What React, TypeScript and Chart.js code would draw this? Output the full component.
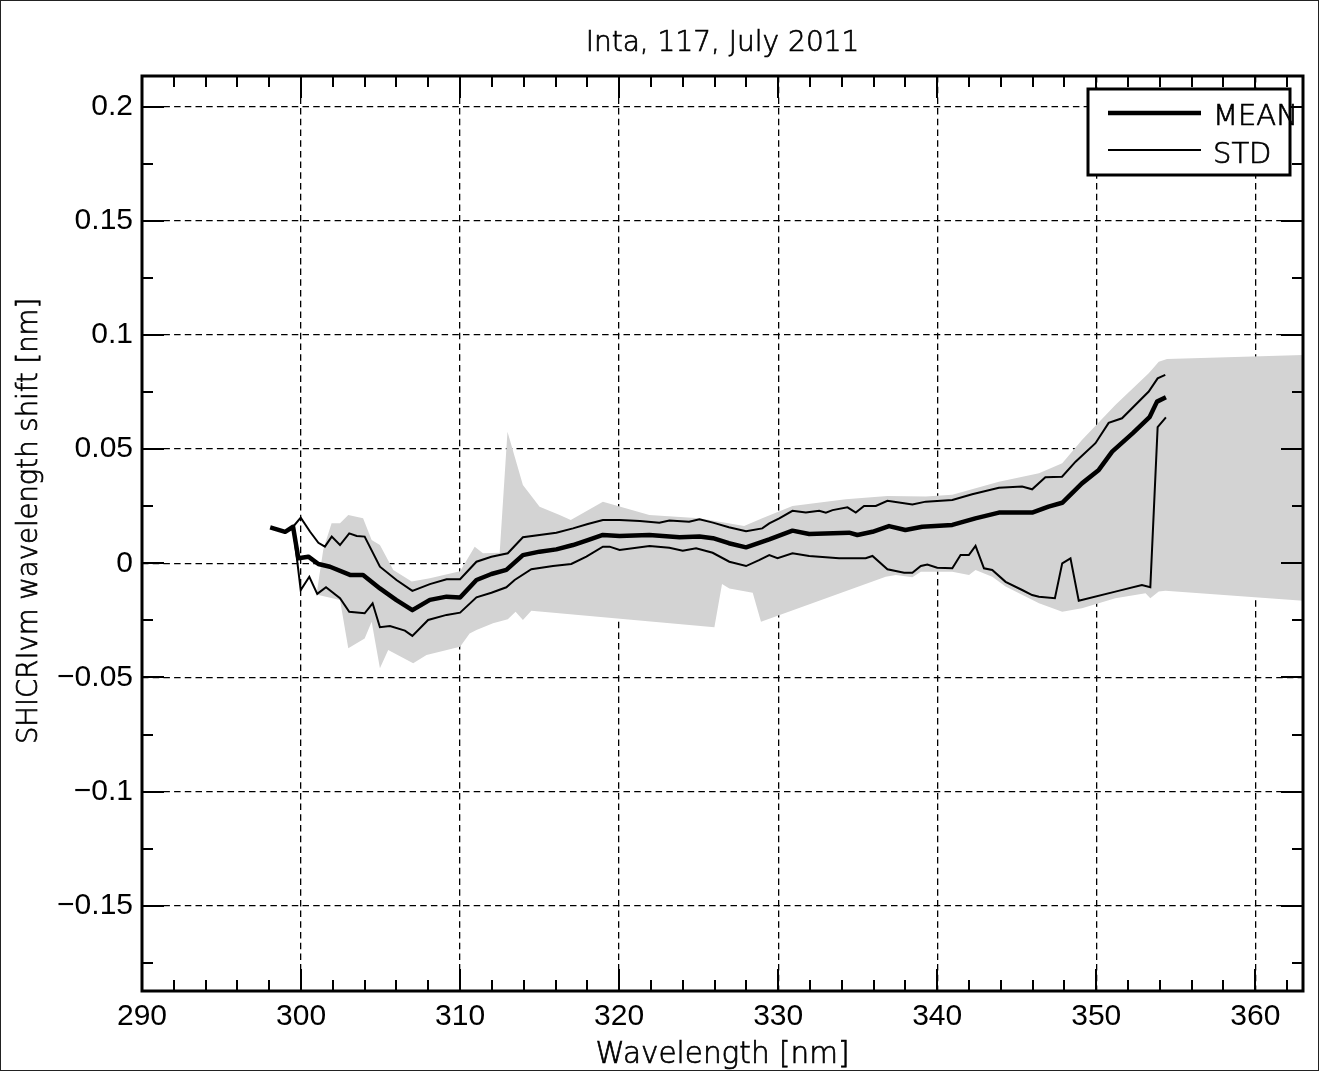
import React, { useEffect, useRef } from "react";
import { Chart, registerables } from "chart.js";

Chart.register(...registerables);

// ---- data (wavelength [nm], shift [nm]) ----
const meanX = [298.06, 299.0, 299.5, 299.83, 300.46, 301.09, 301.82, 303.08, 303.9, 304.96, 306.0, 307.0, 308.1, 309.15, 310.0, 311.03, 311.97, 312.91, 313.95, 315.0, 316.05, 317.1, 318.03, 318.98, 320.03, 321.9, 323.8, 325.05, 325.9, 326.9, 327.98, 329.44, 330.9, 331.95, 334.46, 334.98, 335.93, 336.97, 338.0, 339.06, 340.95, 342.4, 343.88, 345.97, 347.0, 347.86, 349.1, 350.16, 351.0, 352.3, 353.35, 353.82, 354.38];
const meanY = [0.0157, 0.0138, 0.016, 0.0022, 0.0029, -0.0003, -0.0015, -0.0051, -0.0051, -0.011, -0.0161, -0.0205, -0.016, -0.0146, -0.015, -0.0073, -0.0047, -0.0029, 0.0036, 0.0051, 0.0061, 0.008, 0.0102, 0.0124, 0.012, 0.0124, 0.0114, 0.0117, 0.011, 0.0088, 0.007, 0.0105, 0.0143, 0.0128, 0.0134, 0.0124, 0.0138, 0.0163, 0.0146, 0.016, 0.0168, 0.0197, 0.0222, 0.0222, 0.0248, 0.0265, 0.035, 0.0409, 0.0489, 0.057, 0.064, 0.0708, 0.0727];

const stdUpX = [299.5, 299.98, 300.57, 301.09, 301.5, 301.93, 302.45, 303.03, 303.5, 304.0, 304.96, 306.0, 307.0, 308.1, 309.15, 310.0, 311.03, 311.97, 313.0, 313.95, 316.05, 317.1, 318.03, 318.98, 320.03, 321.3, 322.53, 323.16, 324.4, 325.05, 325.9, 326.9, 327.98, 329.0, 329.44, 330.07, 330.9, 331.74, 332.58, 333.0, 333.42, 334.36, 334.88, 335.4, 336.14, 336.87, 338.44, 339.28, 340.95, 342.2, 343.88, 345.34, 345.97, 346.8, 347.85, 348.7, 349.95, 350.78, 351.62, 353.3, 353.86, 354.34];
const stdUpY = [0.016, 0.02, 0.0138, 0.009, 0.0073, 0.0117, 0.008, 0.0131, 0.012, 0.0117, -0.0015, -0.0073, -0.0121, -0.0091, -0.007, -0.007, 0.0007, 0.0029, 0.0044, 0.0114, 0.0134, 0.0153, 0.0172, 0.019, 0.019, 0.0185, 0.0178, 0.0187, 0.0182, 0.0193, 0.0178, 0.0158, 0.014, 0.0153, 0.0175, 0.0197, 0.023, 0.0222, 0.023, 0.0222, 0.0233, 0.0245, 0.0222, 0.0251, 0.0251, 0.0274, 0.0258, 0.027, 0.0277, 0.0302, 0.0331, 0.0336, 0.0324, 0.0377, 0.0379, 0.0445, 0.0526, 0.0615, 0.0635, 0.0752, 0.081, 0.0825];

const stdLoX = [299.5, 299.98, 300.52, 301.02, 301.57, 302.45, 303.03, 304.0, 304.5, 304.96, 305.59, 306.53, 307.0, 307.99, 309.15, 310.0, 311.03, 311.97, 312.91, 313.43, 314.48, 315.84, 316.99, 317.94, 318.98, 319.4, 320.03, 321.91, 323.16, 324.0, 324.84, 325.88, 326.93, 327.98, 328.8, 329.44, 329.96, 330.9, 331.95, 333.83, 335.5, 335.93, 336.87, 337.92, 338.44, 338.97, 339.38, 340.0, 340.95, 341.47, 341.99, 342.41, 342.94, 343.46, 344.3, 345.34, 345.97, 346.4, 347.4, 347.86, 348.38, 348.9, 351.2, 352.87, 353.4, 353.86, 354.38];
const stdLoY = [0.016, -0.0117, -0.0059, -0.0134, -0.0105, -0.0153, -0.0212, -0.0219, -0.0175, -0.028, -0.0275, -0.0295, -0.0318, -0.0248, -0.0226, -0.0216, -0.0149, -0.0129, -0.0105, -0.0073, -0.0026, -0.0012, -0.0003, 0.0029, 0.0073, 0.0073, 0.0058, 0.0076, 0.0068, 0.0055, 0.0066, 0.0046, 0.0007, -0.0012, 0.0014, 0.0036, 0.0022, 0.0044, 0.0032, 0.0022, 0.0022, 0.0032, -0.0026, -0.0041, -0.0041, -0.0012, -0.0005, -0.0019, -0.0022, 0.0036, 0.0036, 0.0076, -0.0022, -0.0029, -0.0081, -0.0117, -0.0139, -0.0146, -0.0153, 0.0, 0.0022, -0.0164, -0.0124, -0.0095, -0.0105, 0.0596, 0.0639];

const envUpX = [301.4, 301.92, 302.45, 302.97, 303.9, 304.44, 304.96, 305.8, 306.96, 308.1, 310.0, 310.92, 311.44, 312.49, 312.98, 313.95, 315.0, 316.26, 316.96, 318.98, 321.9, 325.05, 327.86, 329.0, 330.9, 334.25, 336.87, 339.28, 340.95, 343.88, 346.4, 347.86, 349.1, 351.2, 353.3, 353.93, 354.45, 363.0];
const envUpY = [0.006, 0.0175, 0.0175, 0.0212, 0.0197, 0.0102, 0.008, -0.0029, -0.008, -0.0066, -0.0035, 0.0073, 0.0044, 0.0046, 0.0576, 0.0343, 0.0248, 0.0212, 0.019, 0.027, 0.0212, 0.0197, 0.0163, 0.0197, 0.0251, 0.028, 0.0295, 0.0292, 0.03, 0.0357, 0.0394, 0.0438, 0.054, 0.0693, 0.0832, 0.0883, 0.0895, 0.0912];

const envLoX = [301.0, 301.09, 302.45, 302.97, 304.0, 304.44, 304.96, 305.48, 307.05, 307.89, 310.0, 310.6, 311.03, 312.07, 313.0, 313.49, 313.95, 314.48, 325.99, 326.47, 326.93, 328.4, 328.92, 336.76, 337.4, 338.44, 338.97, 340.95, 342.0, 342.41, 343.46, 344.3, 346.4, 347.86, 349.1, 351.2, 353.1, 353.4, 353.93, 354.35, 363.0];
const envLoY = [-0.0125, -0.0139, -0.0161, -0.0372, -0.0329, -0.0256, -0.046, -0.038, -0.0438, -0.0402, -0.0365, -0.0307, -0.0292, -0.0263, -0.0245, -0.0212, -0.0248, -0.0208, -0.028, -0.0091, -0.011, -0.0129, -0.0256, -0.0059, -0.0051, -0.0061, -0.0037, -0.0037, -0.0051, -0.0029, -0.0059, -0.0102, -0.0175, -0.0212, -0.0197, -0.0153, -0.0131, -0.0153, -0.0124, -0.012, -0.0164];

const X_MIN = 290;
const X_MAX = 363;
const Y_MIN = -0.1873;
const Y_MAX = 0.2134;
const X_STEP = 10;
const X_MINOR = 2;
const Y_STEP = 0.05;
const Y_MINOR = 0.025;

const TITLE = "Inta, 117, July 2011";
const X_LABEL = "Wavelength [nm]";
const Y_LABEL = "SHICRIvm wavelength shift [nm]";
const LEGEND_LABELS = ["MEAN", "STD"];

const pts = (xs: number[], ys: number[]) => xs.map((x, i) => ({ x, y: ys[i] }));

const TICK_FONT = { family: "'Liberation Sans', Arial, Helvetica, sans-serif", size: 30 };
const LABEL_FONT = "'DejaVu Sans', sans-serif";
const LEGEND_FONT = "Lato, 'Open Sans', sans-serif";

const fmt = (v: number) => {
  const r = Number(v.toFixed(3));
  if (r === 0) return "0";
  return r < 0 ? "\u2212" + String(Math.abs(r)) : String(r);
};

const drawText = (ctx: any, s: string, x: number, y: number) => {
  ctx.fillText(s, x, y);
  ctx.strokeText(s, x, y);
};

const framePlugin = {
  id: "frame",
  afterDatasetsDraw(chart: any) {
    const { ctx, chartArea: a, scales } = chart;
    const xs = scales.x;
    const ys = scales.y;
    ctx.save();
    ctx.strokeStyle = "#000";
    ctx.lineWidth = 2;
    ctx.lineCap = "butt";
    const MAJ = 22;
    const MIN = 11;
    for (let v = Math.ceil(xs.min / X_MINOR) * X_MINOR; v <= xs.max + 1e-9; v += X_MINOR) {
      const px = Math.round(xs.getPixelForValue(v));
      const major = Math.abs(v / X_STEP - Math.round(v / X_STEP)) < 1e-6;
      const len = major ? MAJ : MIN;
      ctx.beginPath();
      ctx.moveTo(px, a.bottom);
      ctx.lineTo(px, a.bottom - len);
      ctx.moveTo(px, a.top);
      ctx.lineTo(px, a.top + len);
      ctx.stroke();
    }
    for (let v = Math.ceil(ys.min / Y_MINOR) * Y_MINOR; v <= ys.max + 1e-9; v += Y_MINOR) {
      const py = Math.round(ys.getPixelForValue(v));
      const major = Math.abs(v / Y_STEP - Math.round(v / Y_STEP)) < 1e-6;
      const len = major ? MAJ : MIN;
      ctx.beginPath();
      ctx.moveTo(a.left, py);
      ctx.lineTo(a.left + len, py);
      ctx.moveTo(a.right, py);
      ctx.lineTo(a.right - len, py);
      ctx.stroke();
    }
    ctx.lineWidth = 3;
    ctx.strokeRect(a.left, a.top, a.right - a.left, a.bottom - a.top);

    // legend
    const lx = 1088, ly = 89, lw = 202, lh = 86;
    ctx.fillStyle = "#fff";
    ctx.fillRect(lx, ly, lw, lh);
    ctx.lineWidth = 3;
    ctx.strokeRect(lx, ly, lw, lh);
    ctx.beginPath();
    ctx.lineWidth = 4.5;
    ctx.moveTo(1108, 113);
    ctx.lineTo(1201, 113);
    ctx.stroke();
    ctx.beginPath();
    ctx.lineWidth = 2;
    ctx.moveTo(1108, 150);
    ctx.lineTo(1201, 150);
    ctx.stroke();
    ctx.fillStyle = "#000";
    ctx.font = `200 29px ${LABEL_FONT}`;
    ctx.lineWidth = 0.7;
    ctx.textAlign = "left";
    ctx.textBaseline = "alphabetic";
    drawText(ctx, LEGEND_LABELS[0], 1213, 125);
    drawText(ctx, LEGEND_LABELS[1], 1213, 163);
    ctx.restore();
  },
  afterDraw(chart: any) {
    const { ctx, chartArea: a } = chart;
    ctx.save();
    ctx.fillStyle = "#000";
    ctx.strokeStyle = "#000";
    ctx.lineWidth = 0.7;
    ctx.textAlign = "center";
    ctx.textBaseline = "alphabetic";
    const cx = (a.left + a.right) / 2;
    ctx.font = `200 28px ${LABEL_FONT}`;
    drawText(ctx, TITLE, cx, 51);
    ctx.font = `200 29.5px ${LABEL_FONT}`;
    drawText(ctx, X_LABEL, cx, 1063);
    ctx.font = `200 27.5px ${LABEL_FONT}`;
    ctx.translate(37, 521);
    ctx.rotate(-Math.PI / 2);
    drawText(ctx, Y_LABEL, 0, 0);
    ctx.restore();
    ctx.save();
    ctx.strokeStyle = "#222";
    ctx.lineWidth = 1;
    ctx.strokeRect(0.5, 0.5, 1318, 1070);
    ctx.restore();
  },
};

export default function App() {
  const ref = useRef<HTMLCanvasElement | null>(null);
  useEffect(() => {
    if (!ref.current) return;
    const envelope = [...pts(envUpX, envUpY), ...pts(envLoX, envLoY).reverse()];
    const chart = new Chart(ref.current, {
      type: "scatter",
      data: {
        datasets: [
          {
            label: "MEAN",
            data: pts(meanX, meanY),
            showLine: true,
            borderColor: "#000",
            borderWidth: 4.5,
            pointRadius: 0,
            borderJoinStyle: "round",
            order: 0,
          },
          {
            label: "STD+",
            data: pts(stdUpX, stdUpY),
            showLine: true,
            borderColor: "#000",
            borderWidth: 2,
            pointRadius: 0,
            order: 1,
          },
          {
            label: "STD-",
            data: pts(stdLoX, stdLoY),
            showLine: true,
            borderColor: "#000",
            borderWidth: 2,
            pointRadius: 0,
            order: 1,
          },
          {
            label: "range",
            data: envelope,
            showLine: true,
            borderWidth: 0,
            borderColor: "rgba(0,0,0,0)",
            backgroundColor: "#d3d3d3",
            pointRadius: 0,
            fill: "shape",
            order: 2,
          },
        ] as any,
      },
      options: {
        animation: false,
        responsive: false,
        maintainAspectRatio: false,
        devicePixelRatio: 1,
        layout: { padding: { top: 76, right: 20, bottom: 0, left: 0 } },
        plugins: {
          legend: { display: false },
          tooltip: { enabled: false },
          title: { display: false },
        },
        scales: {
          x: {
            type: "linear",
            min: X_MIN,
            max: X_MAX,
            afterFit: (s: any) => { s.height = 81; },
            ticks: {
              stepSize: X_STEP,
              includeBounds: false,
              padding: 8,
              color: "#000",
              font: TICK_FONT,
              maxRotation: 0,
              autoSkip: false,
              callback: (v: any) => fmt(Number(v)),
            },
            grid: { color: "#000", lineWidth: 1.3, drawTicks: false },
            border: { display: false, dash: [6.5, 4.2] },
          },
          y: {
            type: "linear",
            min: Y_MIN,
            max: Y_MAX,
            afterFit: (s: any) => { s.width = 142; },
            ticks: {
              stepSize: Y_STEP,
              includeBounds: false,
              padding: 9,
              color: "#000",
              font: TICK_FONT,
              autoSkip: false,
              callback: (v: any) => fmt(Number(v)),
            },
            grid: { color: "#000", lineWidth: 1.3, drawTicks: false },
            border: { display: false, dash: [6.5, 4.2] },
          },
        },
      } as any,
      plugins: [framePlugin],
    });
    return () => chart.destroy();
  }, []);
  return (
    <div style={{ position: "fixed", left: 0, top: 0, width: 1323, height: 1072, background: "#fff" }}>
      <canvas ref={ref} width={1323} height={1072} style={{ width: 1323, height: 1072, display: "block" }} />
    </div>
  );
}
